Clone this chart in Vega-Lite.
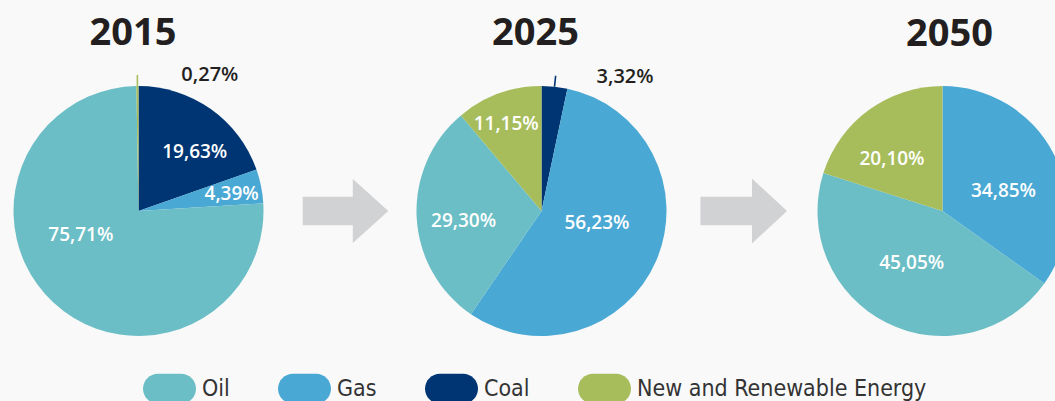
{
  "$schema": "https://vega.github.io/schema/vega-lite/v6.json",
  "background": "#f9f9f9",
  "padding": {"left": 2.5, "top": 15, "right": 0, "bottom": 0},
  "bounds": "flush",
  "spacing": 0,
  "config": {
    "view": {"stroke": null},
    "locale": {"number": {"decimal": ",", "thousands": ".", "grouping": [3], "currency": ["", " €"]}},
    "title": {"fontSize": 38, "font": "Open Sans", "fontWeight": "bold", "color": "#231f20", "anchor": "middle", "baseline": "alphabetic"}
  },
  "data": {"values": [
    {"year": 2015, "fuel": "Coal", "share": 0.1963},
    {"year": 2015, "fuel": "Gas", "share": 0.0439},
    {"year": 2015, "fuel": "Oil", "share": 0.7571},
    {"year": 2015, "fuel": "New and Renewable Energy", "share": 0.0027},
    {"year": 2025, "fuel": "Coal", "share": 0.0332},
    {"year": 2025, "fuel": "Gas", "share": 0.5623},
    {"year": 2025, "fuel": "Oil", "share": 0.2930},
    {"year": 2025, "fuel": "New and Renewable Energy", "share": 0.1115},
    {"year": 2050, "fuel": "Gas", "share": 0.3485},
    {"year": 2050, "fuel": "Oil", "share": 0.4505},
    {"year": 2050, "fuel": "New and Renewable Energy", "share": 0.2010}
  ]},
  "hconcat": [
    {
      "width": 250, "height": 250,
      "title": {"text": "2015", "dx": -5.5, "offset": 12},
      "transform": [{"filter": "datum.year == 2015"}, {"window": [{"op": "row_number", "as": "rank"}]}],
      "encoding": {
        "theta": {"field": "share", "type": "quantitative", "stack": true},
        "order": {"field": "rank", "type": "quantitative"}
      },
      "layer": [
        {"mark": {"type": "arc", "radius": 125, "strokeWidth": 0},
         "encoding": {"color": {"field": "fuel", "type": "nominal",
           "scale": {"domain": ["Oil", "Gas", "Coal", "New and Renewable Energy"], "range": ["#6bbec5", "#4aa8d4", "#003573", "#a7bd5c"]},
           "legend": {"orient": "none", "legendX": 129.5, "legendY": 276, "direction": "horizontal", "title": null,
             "symbolType": "M-0.434,-0.566L0.434,-0.566A0.566,0.566,0,0,1,0.434,0.566L-0.434,0.566A0.566,0.566,0,0,1,-0.434,-0.566Z",
             "symbolSize": 2809, "symbolStrokeWidth": 0, "symbolOpacity": 1,
             "labelFont": "DejaVu Sans Condensed, Liberation Sans, sans-serif", "labelFontSize": 23, "labelColor": "#333333", "labelOffset": 6,
             "columnPadding": 48, "labelLimit": 400, "padding": 0}}}},
        {"mark": {"type": "arc", "radius": 136, "radius2": 125, "padAngle": 1, "filled": false, "strokeWidth": 1.6},
         "encoding": {"stroke": {"field": "fuel", "type": "nominal", "legend": null,
           "scale": {"domain": ["Oil", "Gas", "Coal", "New and Renewable Energy"], "range": ["#6bbec5", "#4aa8d4", "#003573", "#a7bd5c"]}},
           "opacity": {"condition": {"test": "datum.share < 0.04", "value": 1}, "value": 0}}},
        {"mark": {"type": "text", "radius": 80, "dx": 10, "dy": 6, "font": "Open Sans", "fontSize": 19, "fontWeight": 600, "color": "#ffffff"},
         "encoding": {"text": {"field": "share", "type": "quantitative", "format": ".2%"},
           "opacity": {"condition": {"test": "datum.fuel === 'Coal'", "value": 1}, "value": 0}}},
        {"mark": {"type": "text", "radius": 95, "dx": 0, "dy": 2, "font": "Open Sans", "fontSize": 19, "fontWeight": 600, "color": "#ffffff"},
         "encoding": {"text": {"field": "share", "type": "quantitative", "format": ".2%"},
           "opacity": {"condition": {"test": "datum.fuel === 'Gas'", "value": 1}, "value": 0}}},
        {"mark": {"type": "text", "radius": 57, "dx": -19, "dy": -18, "font": "Open Sans", "fontSize": 19, "fontWeight": 600, "color": "#ffffff"},
         "encoding": {"text": {"field": "share", "type": "quantitative", "format": ".2%"},
           "opacity": {"condition": {"test": "datum.fuel === 'Oil'", "value": 1}, "value": 0}}},
        {"mark": {"type": "text", "radius": 136, "dx": 44, "align": "left", "font": "Open Sans", "fontSize": 20, "fontWeight": 600, "color": "#231f20"},
         "encoding": {"text": {"field": "share", "type": "quantitative", "format": ".2%"},
           "opacity": {"condition": {"test": "datum.fuel === 'New and Renewable Energy'", "value": 1}, "value": 0}}}
      ]
    },
    {
      "width": 152.5, "height": 250,
      "data": {"values": [{"arrow": "next"}]},
      "mark": {"type": "point", "shape": "M-0.865,-0.335L0.305,-0.335L0.305,-0.75L1.135,0L0.305,0.75L0.305,0.335L-0.865,0.335Z", "size": 7327, "filled": true, "color": "#d1d2d4", "opacity": 1, "strokeWidth": 0},
      "encoding": {}
    },
    {
      "width": 250, "height": 250,
      "title": {"text": "2025", "dx": -6, "offset": 14},
      "transform": [{"filter": "datum.year == 2025"}, {"window": [{"op": "row_number", "as": "rank"}]}],
      "encoding": {
        "theta": {"field": "share", "type": "quantitative", "stack": true},
        "order": {"field": "rank", "type": "quantitative"}
      },
      "layer": [
        {"mark": {"type": "arc", "radius": 125, "strokeWidth": 0},
         "encoding": {"color": {"field": "fuel", "type": "nominal",
           "scale": {"domain": ["Oil", "Gas", "Coal", "New and Renewable Energy"], "range": ["#6bbec5", "#4aa8d4", "#003573", "#a7bd5c"]}}}},
        {"mark": {"type": "arc", "radius": 136, "radius2": 125, "padAngle": 1, "filled": false, "strokeWidth": 1.6},
         "encoding": {"stroke": {"field": "fuel", "type": "nominal", "legend": null,
           "scale": {"domain": ["Oil", "Gas", "Coal", "New and Renewable Energy"], "range": ["#6bbec5", "#4aa8d4", "#003573", "#a7bd5c"]}},
           "opacity": {"condition": {"test": "datum.share < 0.04", "value": 1}, "value": 0}}},
        {"mark": {"type": "text", "radius": 134.5, "dx": 41, "align": "left", "font": "Open Sans", "fontSize": 20, "fontWeight": 600, "color": "#231f20"},
         "encoding": {"text": {"field": "share", "type": "quantitative", "format": ".2%"},
           "opacity": {"condition": {"test": "datum.fuel === 'Coal'", "value": 1}, "value": 0}}},
        {"mark": {"type": "text", "radius": 56, "dx": 4, "dy": -10, "font": "Open Sans", "fontSize": 19, "fontWeight": 600, "color": "#ffffff"},
         "encoding": {"text": {"field": "share", "type": "quantitative", "format": ".2%"},
           "opacity": {"condition": {"test": "datum.fuel === 'Gas'", "value": 1}, "value": 0}}},
        {"mark": {"type": "text", "radius": 78, "dx": 0, "dy": 6, "font": "Open Sans", "fontSize": 19, "fontWeight": 600, "color": "#ffffff"},
         "encoding": {"text": {"field": "share", "type": "quantitative", "format": ".2%"},
           "opacity": {"condition": {"test": "datum.fuel === 'Oil'", "value": 1}, "value": 0}}},
        {"mark": {"type": "text", "radius": 94, "dx": -3, "dy": 1, "font": "Open Sans", "fontSize": 19, "fontWeight": 600, "color": "#ffffff"},
         "encoding": {"text": {"field": "share", "type": "quantitative", "format": ".2%"},
           "opacity": {"condition": {"test": "datum.fuel === 'New and Renewable Energy'", "value": 1}, "value": 0}}}
      ]
    },
    {
      "width": 150.5, "height": 250,
      "data": {"values": [{"arrow": "next"}]},
      "mark": {"type": "point", "shape": "M-0.954,-0.33L0.236,-0.33L0.236,-0.75L1.046,0L0.236,0.75L0.236,0.33L-0.954,0.33Z", "size": 7500, "filled": true, "color": "#d1d2d4", "opacity": 1, "strokeWidth": 0},
      "encoding": {}
    },
    {
      "width": 250, "height": 250,
      "title": {"text": "2050", "dx": 7, "offset": 32},
      "transform": [{"filter": "datum.year == 2050"}, {"window": [{"op": "row_number", "as": "rank"}]}],
      "encoding": {
        "theta": {"field": "share", "type": "quantitative", "stack": true},
        "order": {"field": "rank", "type": "quantitative"}
      },
      "layer": [
        {"mark": {"type": "arc", "radius": 125, "strokeWidth": 0},
         "encoding": {"color": {"field": "fuel", "type": "nominal",
           "scale": {"domain": ["Oil", "Gas", "Coal", "New and Renewable Energy"], "range": ["#6bbec5", "#4aa8d4", "#003573", "#a7bd5c"]}}}},
        {"mark": {"type": "text", "radius": 63, "dx": 5, "dy": 9, "font": "Open Sans", "fontSize": 19, "fontWeight": 600, "color": "#ffffff"},
         "encoding": {"text": {"field": "share", "type": "quantitative", "format": ".2%"},
           "opacity": {"condition": {"test": "datum.fuel === 'Gas'", "value": 1}, "value": 0}}},
        {"mark": {"type": "text", "radius": 60, "dx": -4, "dy": -2, "font": "Open Sans", "fontSize": 19, "fontWeight": 600, "color": "#ffffff"},
         "encoding": {"text": {"field": "share", "type": "quantitative", "format": ".2%"},
           "opacity": {"condition": {"test": "datum.fuel === 'Oil'", "value": 1}, "value": 0}}},
        {"mark": {"type": "text", "radius": 72, "dx": -8, "dy": 6, "font": "Open Sans", "fontSize": 19, "fontWeight": 600, "color": "#ffffff"},
         "encoding": {"text": {"field": "share", "type": "quantitative", "format": ".2%"},
           "opacity": {"condition": {"test": "datum.fuel === 'New and Renewable Energy'", "value": 1}, "value": 0}}}
      ]
    }
  ]
}
